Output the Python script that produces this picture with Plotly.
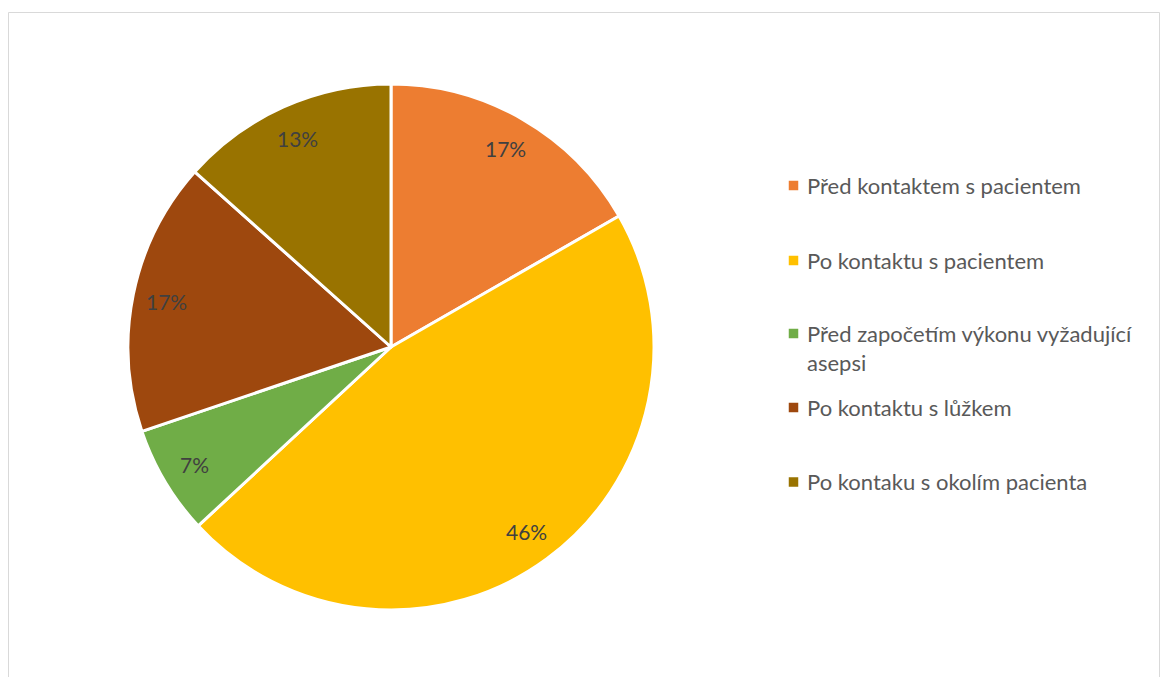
import math
import plotly.graph_objects as go

# Hand-hygiene moments: share of observations per category (%)
categories = [
    "Před kontaktem s pacientem",
    "Po kontaktu s pacientem",
    "Před započetím výkonu vyžadující asepsi",
    "Po kontaktu s lůžkem",
    "Po kontaku s okolím pacienta",
]
legend_labels = [
    "Před kontaktem s pacientem",
    "Po kontaktu s pacientem",
    "Před započetím výkonu vyžadující<br>asepsi",
    "Po kontaktu s lůžkem",
    "Po kontaku s okolím pacienta",
]
shares = [16.7, 46.4, 6.7, 16.8, 13.4]
colors = ["#ED7D31", "#FFC000", "#70AD47", "#9E480E", "#997300"]

W, H = 1160, 677
FONT = "Lato, Calibri, Carlito, sans-serif"

# pie geometry in pixels
cx, cy, R = 391, 347, 263
dom_x = [(cx - R) / W, (cx + R) / W]
dom_y = [(H - (cy + R)) / H, (H - (cy - R)) / H]

fig = go.Figure()
fig.add_trace(go.Pie(
    labels=categories,
    values=shares,
    sort=False,
    direction="clockwise",
    rotation=0,
    marker=dict(colors=colors, line=dict(color="white", width=3)),
    textinfo="none",
    hoverinfo="label+percent",
    showlegend=False,
    domain=dict(x=dom_x, y=dom_y),
))

annotations = []
shapes = []

# percentage labels placed along each slice's mid-angle
total = sum(shares)
start = 0.0
for v in shares:
    frac = v / total
    mid = (start + frac / 2) * 2 * math.pi
    r = 0.87 * R
    px = cx + r * math.sin(mid)
    py = cy - r * math.cos(mid)
    annotations.append(dict(
        x=px / W, y=1 - py / H, xref="paper", yref="paper",
        text=f"{round(frac * 100)}%", showarrow=False,
        xanchor="center", yanchor="middle",
        font=dict(family=FONT, size=21, color="#404040"),
    ))
    start += frac

# legend on the right
legend_y = [185.5, 260.5, 333.5, 407.5, 482]
mx, msize, tx = 793.5, 9.5, 805
for lab, col, ly in zip(legend_labels, colors, legend_y):
    shapes.append(dict(
        type="rect", xref="paper", yref="paper",
        x0=(mx - msize / 2) / W, x1=(mx + msize / 2) / W,
        y0=1 - (ly + msize / 2) / H, y1=1 - (ly - msize / 2) / H,
        fillcolor=col, line=dict(width=0),
    ))
    multi = "<br>" in lab
    annotations.append(dict(
        x=tx / W, y=1 - (ly - 15 if multi else ly) / H,
        xref="paper", yref="paper",
        text=lab, showarrow=False, align="left",
        xanchor="left", yanchor="top" if multi else "middle",
        font=dict(family=FONT, size=22, color="#595959"),
    ))

# chart-area border
shapes.append(dict(
    type="rect", xref="paper", yref="paper",
    x0=8.5 / W, x1=1159.5 / W, y0=-0.05, y1=1 - 12.5 / H,
    line=dict(color="#D9D9D9", width=1), fillcolor="rgba(0,0,0,0)",
))

fig.update_layout(
    width=W, height=H,
    margin=dict(l=0, r=0, t=0, b=0),
    paper_bgcolor="white",
    plot_bgcolor="white",
    annotations=annotations,
    shapes=shapes,
)

fig.write_html("out.html")
